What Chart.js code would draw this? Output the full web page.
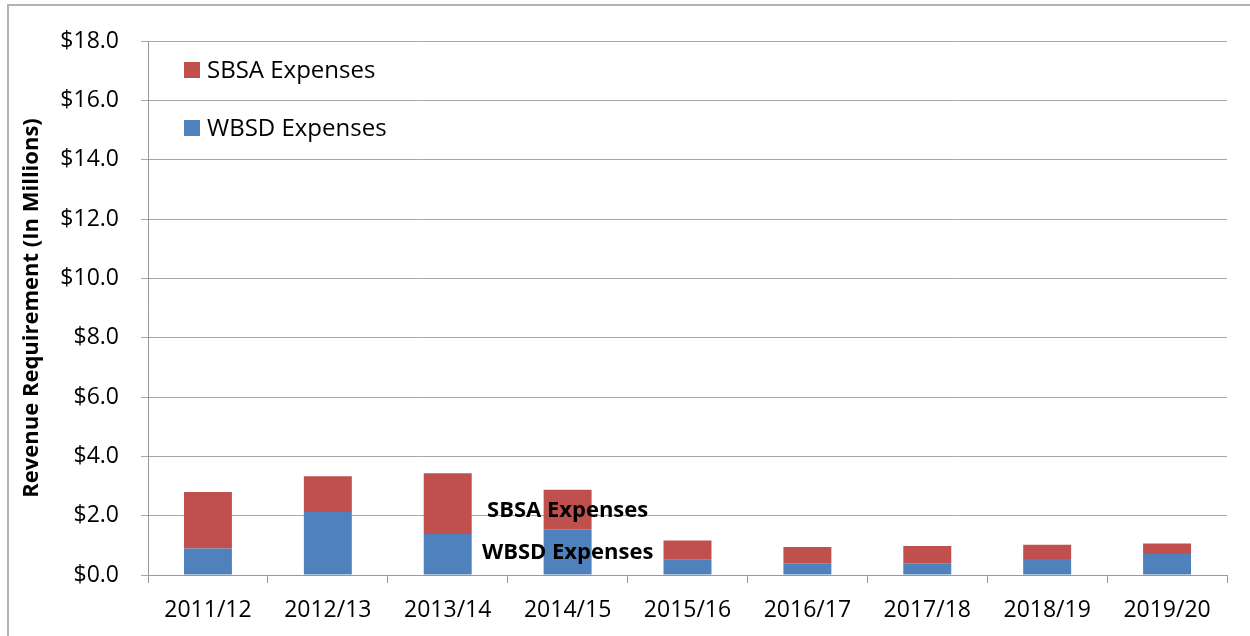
<!DOCTYPE html>
<html>
<head>
<meta charset="utf-8">
<script src="https://cdn.jsdelivr.net/npm/chart.js@4"></script>
<style>
  html, body { margin: 0; padding: 0; background: #fff; }
  #wrap { width: 1250px; height: 636px; }
</style>
</head>
<body>
<div id="wrap"><canvas id="myChart" width="1250" height="636"></canvas></div>
<script>
var years = ["2011/12", "2012/13", "2013/14", "2014/15", "2015/16", "2016/17", "2017/18", "2018/19", "2019/20"];
var wbsd = [0.89, 2.12, 1.38, 1.54, 0.51, 0.40, 0.40, 0.54, 0.71];
var sbsa = [1.91, 1.21, 2.05, 1.33, 0.65, 0.54, 0.58, 0.48, 0.35];
var yTicks = [0, 2, 4, 6, 8, 10, 12, 14, 16, 18];
var labelledBar = 3; // 2014/15 carries the series-name labels

var FONT = "'Open Sans', sans-serif";

// outer frame (only left and top edges are visible)
var framePlugin = {
  id: "frame",
  beforeDraw: function (chart) {
    var c = chart.ctx;
    c.save();
    c.strokeStyle = "#b3b3b3";
    c.lineWidth = 2;
    c.beginPath();
    c.moveTo(8, 636);
    c.lineTo(8, 5);
    c.lineTo(1250, 5);
    c.stroke();
    c.restore();
  }
};

// legend drawn inside the plot, top-left, SBSA first
var legendPlugin = {
  id: "insideLegend",
  afterDraw: function (chart) {
    var c = chart.ctx;
    var items = [chart.data.datasets[1], chart.data.datasets[0]];
    c.save();
    c.font = "24px " + FONT;
    c.textBaseline = "middle";
    items.forEach(function (ds, i) {
      var y = 70 + i * 58;
      c.fillStyle = ds.backgroundColor;
      c.fillRect(184, y - 8, 16, 16);
      c.fillStyle = "#000";
      c.fillText(ds.label, 207, y + 1);
    });
    c.restore();
  }
};

// series-name labels on one bar
var seriesLabelPlugin = {
  id: "seriesLabels",
  afterDatasetsDraw: function (chart) {
    var c = chart.ctx;
    c.save();
    c.font = "bold 22px " + FONT;
    c.textAlign = "center";
    c.textBaseline = "middle";
    c.fillStyle = "#000";
    chart.data.datasets.forEach(function (ds, i) {
      var bar = chart.getDatasetMeta(i).data[labelledBar];
      c.fillText(ds.label, bar.x, (bar.y + bar.base) / 2 + 1);
    });
    c.restore();
  }
};

var ctx = document.getElementById("myChart").getContext("2d");
var myChart = new Chart(ctx, {
  type: "bar",
  data: {
    labels: years,
    datasets: [
      {
        label: "WBSD Expenses",
        data: wbsd,
        backgroundColor: "#4F81BD",
        barPercentage: 0.4,
        categoryPercentage: 1
      },
      {
        label: "SBSA Expenses",
        data: sbsa,
        backgroundColor: "#C0504D",
        barPercentage: 0.4,
        categoryPercentage: 1
      }
    ]
  },
  options: {
    responsive: false,
    animation: false,
    layout: { padding: { left: 0, right: 23, top: 41, bottom: 0 } },
    plugins: {
      legend: { display: false },
      tooltip: { enabled: false }
    },
    scales: {
      x: {
        stacked: true,
        grid: { drawOnChartArea: false, drawTicks: true, tickLength: 8, color: "#999" },
        border: { color: "#999" },
        ticks: { color: "#000", font: { family: FONT, size: 23 }, padding: 14, maxRotation: 0 },
        afterFit: function (scale) { scale.height = 61; }
      },
      y: {
        stacked: true,
        min: 0,
        max: 18,
        afterBuildTicks: function (scale) {
          scale.ticks = yTicks.map(function (v) { return { value: v }; });
        },
        grid: { color: "#a6a6a6", tickLength: 7 },
        border: { color: "#999" },
        ticks: {
          color: "#000",
          font: { family: FONT, size: 23 },
          padding: 22,
          callback: function (v) { return "$" + v.toFixed(1); }
        },
        title: {
          display: true,
          text: "Revenue Requirement (In Millions)",
          color: "#000",
          font: { family: FONT, size: 22, weight: "bold" },
          padding: { top: 19, bottom: 0 }
        },
        afterFit: function (scale) { scale.width = 148; }
      }
    }
  },
  plugins: [framePlugin, legendPlugin, seriesLabelPlugin]
});
</script>
</body>
</html>
